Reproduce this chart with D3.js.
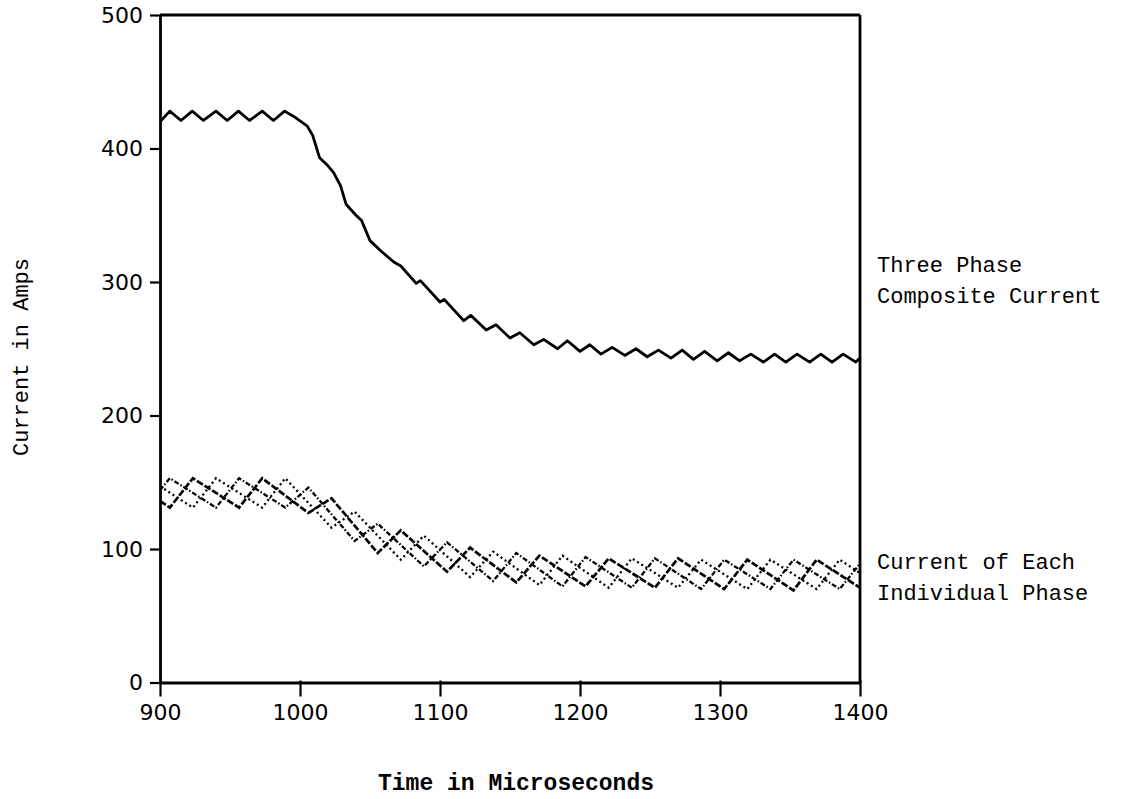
<!DOCTYPE html>
<html>
<head>
<meta charset="utf-8">
<script src="https://cdn.jsdelivr.net/npm/d3@7"></script>
<style>
  html, body { margin: 0; padding: 0; background: #fff; }
  svg { display: block; }
</style>
</head>
<body>
<svg id="chart" width="1141" height="799"></svg>
<script>
// ---- Data ----
const xTicks = [900, 1000, 1100, 1200, 1300, 1400];
const yTicks = [0, 100, 200, 300, 400, 500];

// Three phase composite current
const compTime = [900, 907, 915, 923, 931, 940, 948, 956, 964, 973, 981, 989, 997, 1005, 1009, 1014, 1020, 1024, 1029, 1033, 1040, 1044, 1050, 1058, 1067, 1072, 1083, 1086, 1100, 1103, 1117, 1122, 1133, 1140, 1150, 1157, 1167, 1174, 1184, 1191, 1200, 1207, 1215, 1223, 1232, 1240, 1248, 1256, 1265, 1273, 1281, 1289, 1298, 1306, 1314, 1322, 1331, 1339, 1347, 1355, 1364, 1372, 1380, 1388, 1397, 1400];
const compAmps = [420, 428, 421, 428, 421, 428, 421, 428, 421, 428, 421, 428, 423, 417, 410, 393, 387, 382, 372, 358, 350, 346, 331, 323, 315, 312, 299, 301, 285, 287, 271, 275, 264, 268, 258, 262, 253, 257, 250, 256, 248, 253, 246, 251, 245, 250, 244, 249, 243, 249, 242, 248, 241, 247, 241, 246, 240, 246, 240, 246, 240, 246, 240, 246, 240, 243];

// Individual phase currents
const phaseATime = [900, 907, 923.5, 956.5, 973, 1006, 1022.5, 1055.5, 1072, 1105, 1121.5, 1154.5, 1171, 1204, 1220.5, 1253.5, 1270, 1303, 1319.5, 1352.5, 1369, 1400];
const phaseAAmps = [136, 131, 153, 131, 153, 127, 138, 97, 114, 83, 101, 75, 95, 72, 93, 71, 93, 70, 92, 69, 92, 71];

const phaseBTime = [900, 923.5, 940, 973, 989.5, 1022.5, 1039, 1072, 1088.5, 1121.5, 1138, 1171, 1187.5, 1220.5, 1237, 1270, 1286.5, 1319.5, 1336, 1369, 1385.5, 1400];
const phaseBAmps = [147, 131, 153, 131, 153, 116, 128, 92, 110, 79, 98, 73, 95, 71, 93, 71, 92, 70, 92, 70, 92, 82];

const phaseCTime = [900, 907, 940, 956.5, 989.5, 1006, 1039, 1055.5, 1088.5, 1105, 1138, 1154.5, 1187.5, 1204, 1237, 1253.5, 1286.5, 1303, 1336, 1352.5, 1385.5, 1400];
const phaseCAmps = [144, 153, 131, 153, 131, 146, 106, 119, 87, 105, 76, 97, 72, 94, 71, 93, 70, 92, 70, 92, 70, 89];

const labelComposite = ["Three Phase", "Composite Current"];
const labelPhase = ["Current of Each", "Individual Phase"];
const xTitle = "Time in Microseconds";
const yTitle = "Current in Amps";

// ---- Drawing ----
const svg = d3.select("#chart");
const x = d3.scaleLinear().domain([900, 1400]).range([160, 860]);
const y = d3.scaleLinear().domain([0, 500]).range([682.5, 15]);

const tickFont = "'DejaVu Sans', sans-serif";
const monoFont = "'Liberation Mono', 'DejaVu Sans Mono', monospace";

// Frame (top and right)
svg.append("line").attr("x1", x(900)).attr("x2", x(1400)).attr("y1", y(500)).attr("y2", y(500))
  .attr("stroke", "#000").attr("stroke-width", 2.8);
svg.append("line").attr("x1", x(1400)).attr("x2", x(1400)).attr("y1", y(500)).attr("y2", y(0))
  .attr("stroke", "#000").attr("stroke-width", 2.8);

// Axes
const xAxis = d3.axisBottom(x).tickValues(xTicks).tickFormat(d3.format("d")).tickSizeOuter(0).tickSizeInner(14).tickPadding(8);
const yAxis = d3.axisLeft(y).tickValues(yTicks).tickFormat(d3.format("d")).tickSizeOuter(0).tickSizeInner(10).tickPadding(7);

const gx = svg.append("g").attr("transform", `translate(0,${y(0)})`).call(xAxis);
const gy = svg.append("g").attr("transform", `translate(${x(900)},0)`).call(yAxis);

[gx, gy].forEach(g => {
  g.select(".domain").attr("stroke", "#000").attr("stroke-width", 2.8);
  g.selectAll(".tick line").attr("stroke", "#000").attr("stroke-width", 2.2);
  g.selectAll(".tick text").attr("fill", "#000").style("font-family", tickFont).style("font-size", "22px");
});
gx.selectAll(".tick line").attr("y1", -2).attr("y2", 14);

// Lines
const line = (ts, vs) => d3.line().x((d, i) => x(ts[i])).y((d, i) => y(vs[i]))(ts);

svg.append("path").attr("d", line(phaseBTime, phaseBAmps))
  .attr("fill", "none").attr("stroke", "#000").attr("stroke-width", 2.3)
  .attr("stroke-dasharray", "2,3");
svg.append("path").attr("d", line(phaseCTime, phaseCAmps))
  .attr("fill", "none").attr("stroke", "#000").attr("stroke-width", 2.3)
  .attr("stroke-dasharray", "5,2,1.5,2");
svg.append("path").attr("d", line(phaseATime, phaseAAmps))
  .attr("fill", "none").attr("stroke", "#000").attr("stroke-width", 2.7)
  .attr("stroke-dasharray", "7,2");

svg.append("path").attr("d", line(compTime, compAmps))
  .attr("fill", "none").attr("stroke", "#000").attr("stroke-width", 2.8)
  .attr("stroke-linejoin", "round");

// Annotations
const ann = svg.append("g").style("font-family", monoFont).style("font-size", "22px").attr("fill", "#000");
labelComposite.forEach((t, i) => ann.append("text").attr("x", 877).attr("y", 272 + i * 31).text(t));
labelPhase.forEach((t, i) => ann.append("text").attr("x", 877).attr("y", 569 + i * 31).text(t));

// Axis titles
svg.append("text").attr("x", 516).attr("y", 790).attr("text-anchor", "middle")
  .style("font-family", monoFont).style("font-size", "23px").style("font-weight", "bold")
  .attr("fill", "#000").text(xTitle);
svg.append("text").attr("transform", "translate(28,357) rotate(-90)").attr("text-anchor", "middle")
  .style("font-family", monoFont).style("font-size", "22px")
  .attr("fill", "#000").text(yTitle);
</script>
</body>
</html>
